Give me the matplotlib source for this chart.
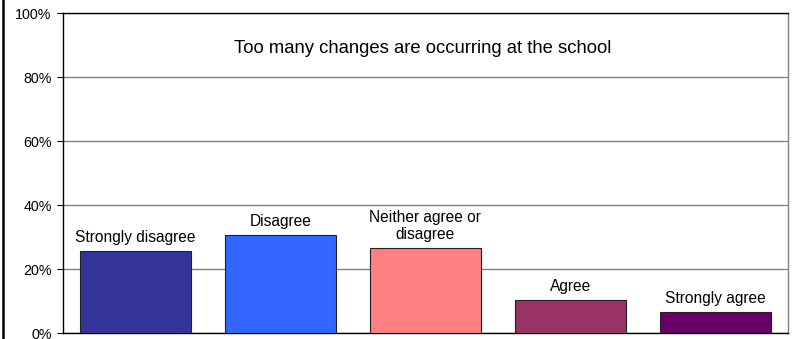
import matplotlib
matplotlib.use("Agg")
import matplotlib.pyplot as plt
from matplotlib.lines import Line2D

plt.rcParams['font.family'] = ['Liberation Sans', 'DejaVu Sans']

categories = ["Strongly disagree", "Disagree", "Neither agree or\ndisagree", "Agree", "Strongly agree"]
shares = [0.256, 0.306, 0.266, 0.104, 0.067]
colors = ["#333399", "#3366FF", "#FF8080", "#993366", "#660066"]
y_ticks = [0, 0.2, 0.4, 0.6, 0.8, 1.0]
y_tick_labels = ["0%", "20%", "40%", "60%", "80%", "100%"]
title = "Too many changes are occurring at the school"

fig = plt.figure(figsize=(7.96, 3.39), dpi=100)
ax = fig.add_axes([0.0788, 0.0168, 0.9108, 0.944])

x = list(range(len(categories)))
ax.bar(x, shares, width=0.765, color=colors, edgecolor="#222222", linewidth=0.8, zorder=3)

for xi, val, lab in zip(x, shares, categories):
    ax.annotate(lab, (xi, val), xytext=(0, 4.5), textcoords="offset points",
                ha="center", va="bottom", fontsize=11.2, color="black",
                linespacing=1.15, zorder=4)

ax.set_xlim(-0.5, len(categories) - 0.5)
ax.set_ylim(0, 1.0)
ax.set_yticks(y_ticks)
ax.set_yticklabels(y_tick_labels, fontsize=10.3)
ax.set_xticks([])
ax.tick_params(axis="y", direction="out", length=4.5, width=0.8, pad=3.5, color="black")

ax.grid(axis="y", color="#808080", linewidth=1.0, zorder=0)
ax.set_axisbelow(True)

for side in ("left", "bottom", "top"):
    ax.spines[side].set_color("black")
    ax.spines[side].set_linewidth(1.0)
ax.spines["right"].set_color("#808080")
ax.spines["right"].set_linewidth(1.0)

ax.text(0.496, 0.877, title, transform=ax.transAxes, ha="center", va="baseline", fontsize=13.3)

# chart frame edge on the left
fig.add_artist(Line2D([3 / 796, 3 / 796], [0, 1], transform=fig.transFigure, color="black", linewidth=1.8))

fig.savefig("out.png", dpi=100)
